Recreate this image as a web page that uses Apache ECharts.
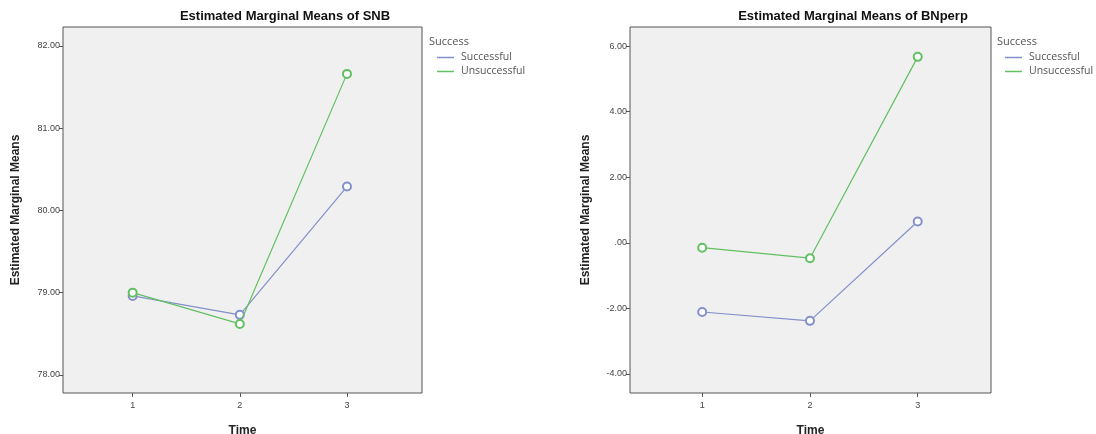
<!DOCTYPE html>
<html>
<head>
<meta charset="utf-8">
<script src="https://cdn.jsdelivr.net/npm/echarts@6/dist/echarts.min.js"></script>
<style>
  html, body { margin: 0; padding: 0; background: #fff; }
  #main { width: 1096px; height: 434px; }
</style>
</head>
<body>
<div id="main"></div>
<script>
// data
var timePoints = [1, 2, 3];
var snbSuccessful = [78.96, 78.73, 80.29];
var snbUnsuccessful = [79.00, 78.62, 81.66];
var bnSuccessful = [-2.11, -2.38, 0.65];
var bnUnsuccessful = [-0.15, -0.47, 5.67];
var snbTicks = [78, 79, 80, 81, 82];
var bnTicks = [-4, -2, 0, 2, 4, 6];

var blue = '#8390cb';
var green = '#62c062';

function pairs(xs, ys) {
  var out = [];
  for (var i = 0; i < xs.length; i++) out.push([xs[i], ys[i]]);
  return out;
}
function spssLabel(v) {
  return v.toFixed(2).replace(/^(-?)0\./, '$1.');
}
function lineSeries(name, color, xi, yi, data) {
  return {
    name: name,
    type: 'line',
    xAxisIndex: xi,
    yAxisIndex: yi,
    data: pairs(timePoints, data),
    symbol: 'emptyCircle',
    symbolSize: 8,
    lineStyle: { color: color, width: 1.2 },
    itemStyle: { color: color, borderWidth: 1 },
    emphasis: { disabled: true },
    z: name === 'Unsuccessful' ? 3 : 2
  };
}
function xAxisCfg(gi, min, max) {
  return {
    type: 'value', gridIndex: gi, min: min, max: max,
    name: 'Time', nameLocation: 'middle', nameGap: 32,
    nameTextStyle: { fontFamily: 'Liberation Sans', fontWeight: 'bold', fontSize: 12, color: '#222' },
    axisLine: { show: false, onZero: false },
    splitLine: { show: false },
    axisTick: { show: true, length: 4, lineStyle: { color: '#555' }, customValues: timePoints },
    axisLabel: { fontFamily: 'Liberation Sans', fontSize: 9, color: '#444', margin: 8, customValues: timePoints }
  };
}
function yAxisCfg(gi, min, max, ticks, gap) {
  return {
    type: 'value', gridIndex: gi, min: min, max: max,
    name: 'Estimated Marginal Means', nameLocation: 'middle', nameGap: gap,
    nameTextStyle: { fontFamily: 'Liberation Sans', fontWeight: 'bold', fontSize: 12, color: '#222' },
    axisLine: { show: false, onZero: false },
    splitLine: { show: false },
    axisTick: { show: true, length: 4, lineStyle: { color: '#555' }, customValues: ticks },
    axisLabel: { fontFamily: 'Liberation Sans', fontSize: 9, color: '#444', margin: 3,
      customValues: ticks, formatter: function (v) { return spssLabel(v); } }
  };
}
function legendCfg(left) {
  return {
    left: left, top: 47, orient: 'vertical',
    icon: 'rect', itemWidth: 17, itemHeight: 1.5, itemGap: 3,
    data: ['Successful', 'Unsuccessful'],
    selectedMode: false,
    itemStyle: { borderWidth: 0 },
    textStyle: { fontFamily: 'Open Sans', fontSize: 10.5, color: '#555', padding: [0, 0, 0, 2] }
  };
}

var chart = echarts.init(document.getElementById('main'));
var option = {
  animation: false,
  backgroundColor: '#fff',
  title: [
    { text: 'Estimated Marginal Means of SNB', left: 280, top: 5, textAlign: 'center',
      textStyle: { fontFamily: 'Liberation Sans', fontWeight: 'bold', fontSize: 13, color: '#111' } },
    { text: 'Estimated Marginal Means of BNperp', left: 848, top: 5, textAlign: 'center',
      textStyle: { fontFamily: 'Liberation Sans', fontWeight: 'bold', fontSize: 13, color: '#111' } },
    { text: 'Success', left: 424, top: 31,
      textStyle: { fontFamily: 'Open Sans', fontWeight: 'normal', fontSize: 11, color: '#555' } },
    { text: 'Success', left: 992, top: 31,
      textStyle: { fontFamily: 'Open Sans', fontWeight: 'normal', fontSize: 11, color: '#555' } }
  ],
  legend: [legendCfg(432), legendCfg(1000)],
  grid: [
    { left: 63, top: 27, width: 359, height: 366, outerBoundsMode: 'none', show: true,
      backgroundColor: '#f0f0f0', borderColor: '#555', borderWidth: 1 },
    { left: 630, top: 27, width: 361, height: 366, outerBoundsMode: 'none', show: true,
      backgroundColor: '#f0f0f0', borderColor: '#555', borderWidth: 1 }
  ],
  xAxis: [xAxisCfg(0, 0.35, 3.7), xAxisCfg(1, 0.33, 3.68)],
  yAxis: [yAxisCfg(0, 77.78, 82.23, snbTicks, 41), yAxisCfg(1, -4.58, 6.58, bnTicks, 38)],
  series: [
    lineSeries('Successful', blue, 0, 0, snbSuccessful),
    lineSeries('Unsuccessful', green, 0, 0, snbUnsuccessful),
    lineSeries('Successful', blue, 1, 1, bnSuccessful),
    lineSeries('Unsuccessful', green, 1, 1, bnUnsuccessful)
  ]
};
chart.setOption(option);
</script>
</body>
</html>
